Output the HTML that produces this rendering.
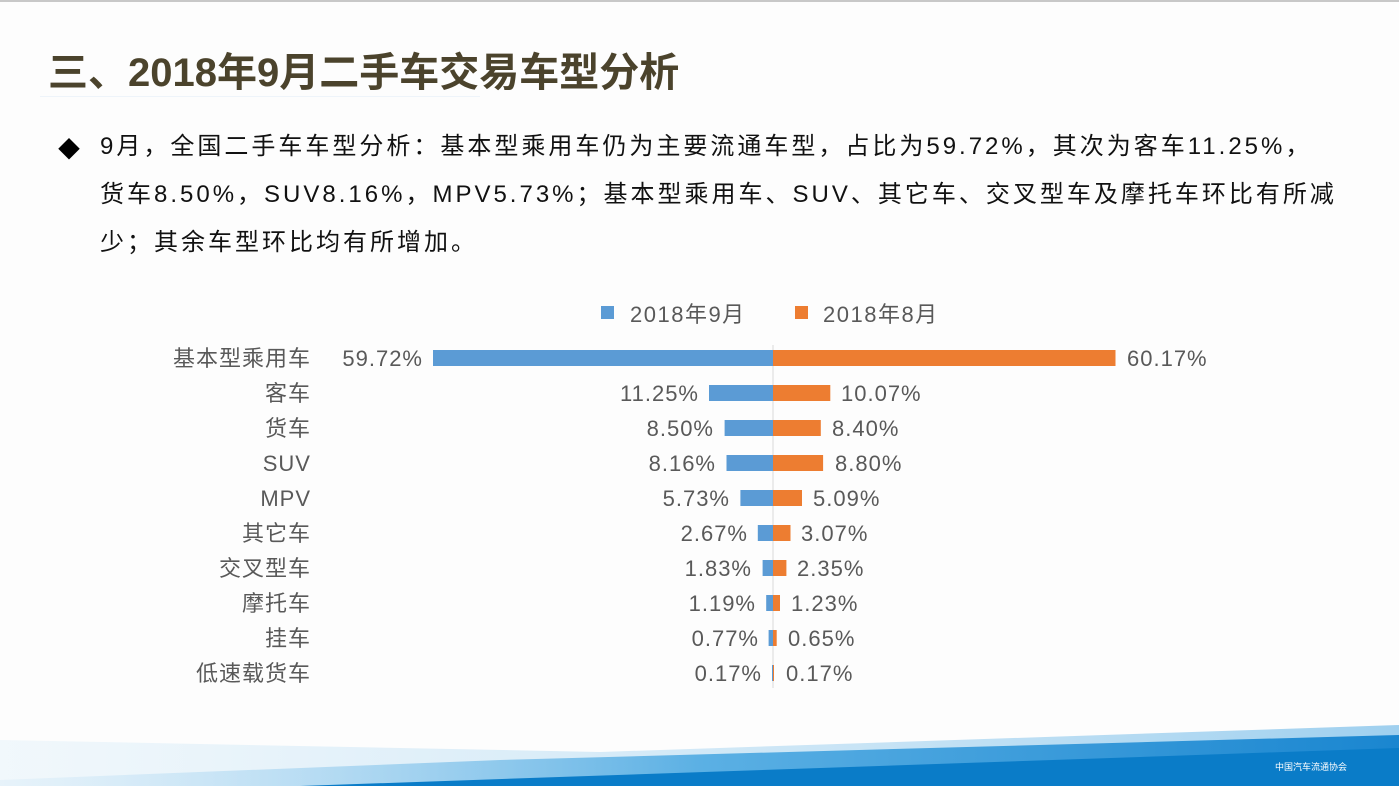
<!DOCTYPE html>
<html><head><meta charset="utf-8"><style>
body{margin:0;width:1399px;height:786px;overflow:hidden;background:#fdfdfd;font-family:"Liberation Sans","Noto Sans CJK SC",sans-serif;position:relative}
.t{position:absolute;left:48px;top:40px;font-size:40px;font-weight:bold;color:#4b432c}
.p{position:absolute;left:100px;top:123px;font-size:24px;color:#111;line-height:48px;width:1290px;letter-spacing:3.0px;white-space:nowrap}
.d{position:absolute;left:58px;top:132px;font-size:22px}
</style></head><body>
<div style="position:absolute;left:0;top:0;width:1399px;height:2px;background:#c8c8c8"></div>
<div class="t">三、2018年9月二手车交易车型分析</div>
<div style="position:absolute;left:40px;top:96px;width:440px;height:1px;background:#eef4fa"></div>
<div class="d">◆</div>
<div class="p">9月，全国二手车车型分析：基本型乘用车仍为主要流通车型，占比为59.72%，其次为客车11.25%，<br>货车8.50%，SUV8.16%，MPV5.73%；基本型乘用车、SUV、其它车、交叉型车及摩托车环比有所减<br>少；其余车型环比均有所增加。</div>
<svg width="1399" height="786" style="position:absolute;left:0;top:0" font-family="Liberation Sans, Noto Sans CJK SC, sans-serif">
<defs>
<linearGradient id="g1" x1="0" x2="1"><stop offset="0" stop-color="#bfe0f5" stop-opacity="0.2"/><stop offset="0.5" stop-color="#5bb0e4"/><stop offset="1" stop-color="#1a86d0"/></linearGradient>
<linearGradient id="g2" x1="0" x2="1"><stop offset="0" stop-color="#d5ebf8" stop-opacity="0.3"/><stop offset="1" stop-color="#9fd0ef"/></linearGradient>
</defs>
<polygon points="0,740 600,752 1399,725 1399,786 0,786" fill="url(#g2)"/>
<polygon points="0,780 500,760 1399,735 1399,786 0,786" fill="url(#g1)"/>
<polygon points="300,786 1399,748 1399,786" fill="#0a7cc8"/>
<g font-size="22" fill="#595959" letter-spacing="1.5">
<rect x="601" y="306" width="13" height="13" fill="#5b9bd5"/><text x="630" y="322">2018年9月</text>
<rect x="795" y="306" width="13" height="13" fill="#ed7d31"/><text x="823" y="322">2018年8月</text>
</g>
<line x1="773" y1="345" x2="773" y2="688" stroke="#d9d9d9"/>
<g fill="#5b9bd5">
<rect x="433" y="350" width="340" height="16"/>
<rect x="709" y="385" width="64" height="16"/>
<rect x="724.6" y="420" width="48.4" height="16"/>
<rect x="726.5" y="455" width="46.5" height="16"/>
<rect x="740.4" y="490" width="32.6" height="16"/>
<rect x="757.8" y="525" width="15.2" height="16"/>
<rect x="762.6" y="560" width="10.4" height="16"/>
<rect x="766.2" y="595" width="6.8" height="16"/>
<rect x="768.6" y="630" width="4.4" height="16"/>
<rect x="772" y="665" width="1" height="16"/>
</g>
<g fill="#ed7d31">
<rect x="773" y="350" width="342.5" height="16"/>
<rect x="773" y="385" width="57.3" height="16"/>
<rect x="773" y="420" width="47.8" height="16"/>
<rect x="773" y="455" width="50.1" height="16"/>
<rect x="773" y="490" width="29" height="16"/>
<rect x="773" y="525" width="17.5" height="16"/>
<rect x="773" y="560" width="13.4" height="16"/>
<rect x="773" y="595" width="7" height="16"/>
<rect x="773" y="630" width="3.7" height="16"/>
<rect x="773" y="665" width="1" height="16"/>
</g>
<g font-size="22" fill="#595959" text-anchor="end" letter-spacing="1">
<text x="311" y="366">基本型乘用车</text><text x="311" y="401">客车</text><text x="311" y="436">货车</text><text x="311" y="471">SUV</text><text x="311" y="506">MPV</text><text x="311" y="541">其它车</text><text x="311" y="576">交叉型车</text><text x="311" y="611">摩托车</text><text x="311" y="646">挂车</text><text x="311" y="681">低速载货车</text>
<text x="423" y="366">59.72%</text><text x="699" y="401">11.25%</text><text x="714" y="436">8.50%</text><text x="716" y="471">8.16%</text><text x="730" y="506">5.73%</text><text x="748" y="541">2.67%</text><text x="752" y="576">1.83%</text><text x="756" y="611">1.19%</text><text x="759" y="646">0.77%</text><text x="762" y="681">0.17%</text>
</g>
<g font-size="22" fill="#595959" letter-spacing="1">
<text x="1127" y="366">60.17%</text><text x="841" y="401">10.07%</text><text x="832" y="436">8.40%</text><text x="835" y="471">8.80%</text><text x="813" y="506">5.09%</text><text x="801" y="541">3.07%</text><text x="797" y="576">2.35%</text><text x="791" y="611">1.23%</text><text x="788" y="646">0.65%</text><text x="786" y="681">0.17%</text>
</g>
<text x="1275" y="770" font-size="9" fill="#fff">中国汽车流通协会</text>
</svg>
</body></html>
